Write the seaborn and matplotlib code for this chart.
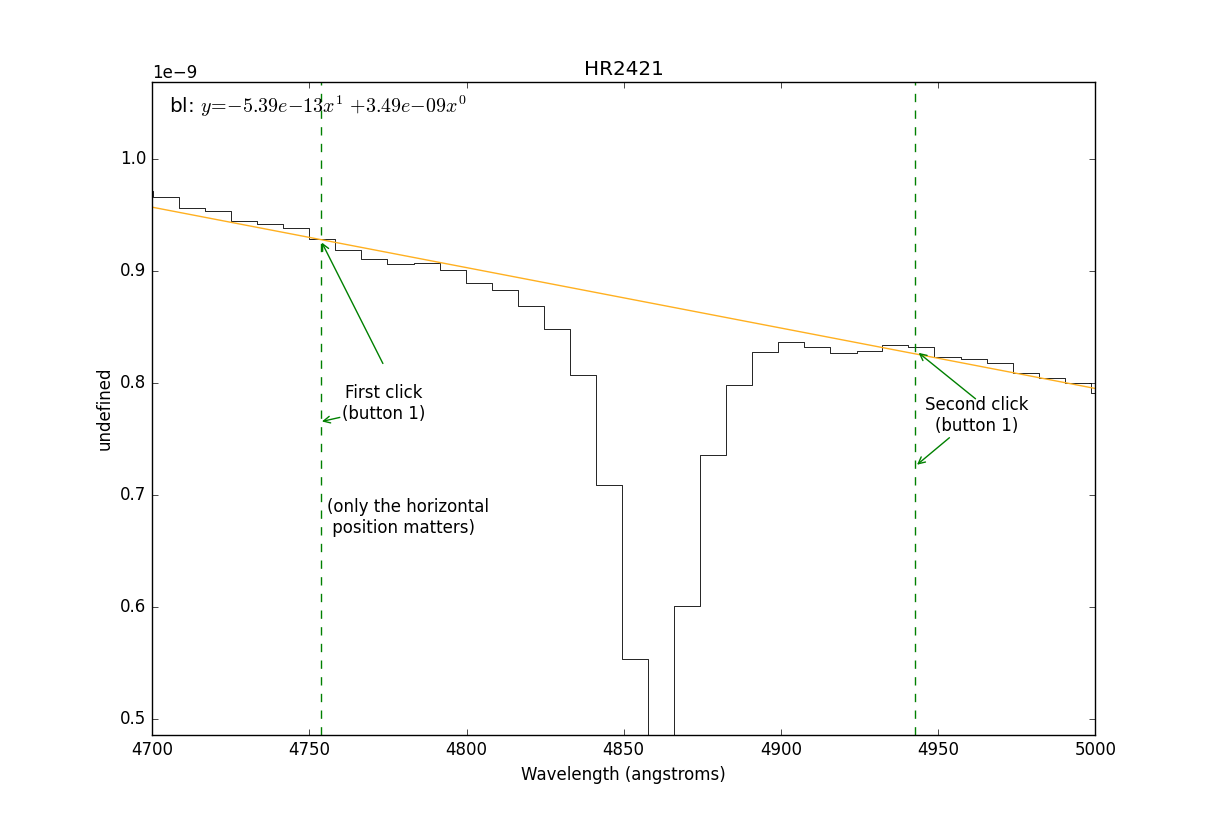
import numpy as np
import matplotlib
matplotlib.use("Agg")
import matplotlib.pyplot as plt
import seaborn as sns

# spectre (flux en unités de 1e-9)
wavelength = [4696.2, 4704.4, 4712.7, 4721.0, 4729.3, 4737.6, 4745.9, 4754.2,
              4762.4, 4770.7, 4779.0, 4787.3, 4795.6, 4803.9, 4812.2, 4820.4,
              4828.7, 4837.0, 4845.3, 4853.6, 4861.9, 4870.2, 4878.4, 4886.7,
              4895.0, 4903.3, 4911.6, 4919.9, 4928.2, 4936.4, 4944.7, 4953.0,
              4961.3, 4969.6, 4977.9, 4986.2, 4994.4, 5002.7]
flux_e9 = [0.9715, 0.9661, 0.9558, 0.9531, 0.9447, 0.9418, 0.9382, 0.9284,
           0.9186, 0.9106, 0.9062, 0.9073, 0.9008, 0.8895, 0.8824, 0.8690,
           0.8482, 0.8066, 0.7092, 0.5535, 0.4200, 0.6010, 0.7360, 0.7984,
           0.8274, 0.8366, 0.8319, 0.8268, 0.8283, 0.8336, 0.8319, 0.8233,
           0.8211, 0.8176, 0.8090, 0.8045, 0.8001, 0.7908]

# baseline (coefficients du label)
bl_coefs = [-5.39e-13, 3.49e-09]
bl_x = [4700, 5000]

# positions des clics
clicks = [4753.7, 4942.8]

plt.style.use('classic')
plt.rcParams['figure.facecolor'] = 'white'
plt.rcParams['savefig.facecolor'] = 'white'

fig = plt.figure(figsize=(12.17, 8.17), dpi=100)
ax = fig.add_axes([0.125, 0.1, 0.775, 0.8])

sns.lineplot(x=wavelength, y=np.array(flux_e9) * 1e-9, ax=ax, color='k',
             lw=0.6, drawstyle='steps-mid', estimator=None)
sns.lineplot(x=bl_x, y=np.polyval(bl_coefs, bl_x), ax=ax, color='#FFB020',
             lw=1.0, estimator=None)

for c in clicks:
    ax.axvline(c, color='g', ls='--', lw=1.0)

arrow = dict(arrowstyle='->', color='g', lw=1.0, shrinkA=0, shrinkB=0)
ax.annotate('', xy=(4754.0, 0.9251e-9), xytext=(4773.4, 0.8173e-9), arrowprops=arrow)
ax.annotate('', xy=(4754.0, 0.7656e-9), xytext=(4759.7, 0.7692e-9), arrowprops=arrow)
ax.annotate('', xy=(4943.8, 0.8268e-9), xytext=(4961.9, 0.7858e-9), arrowprops=arrow)
ax.annotate('', xy=(4943.3, 0.7270e-9), xytext=(4953.6, 0.7511e-9), arrowprops=arrow)

ax.text(4773.7, 0.7816e-9, "First click\n(button 1)", ha='center', va='center', fontsize=12)
ax.text(4962.2, 0.7709e-9, "Second click\n(button 1)", ha='center', va='center', fontsize=12)
ax.text(4755.6, 0.680e-9, "(only the horizontal\n position matters)", ha='left',
        va='center', multialignment='left', fontsize=12)

ax.text(0.018, 0.962, r"bl: $y\!=\!{-}5.39e{-}13x^1\ {+}3.49e{-}09x^0$",
        transform=ax.transAxes, ha='left', va='center', fontsize=14.4)

ax.set_xlim(4700, 5000)
ax.set_ylim(0.4857e-9, 1.0686e-9)
ax.set_title("HR2421")
ax.set_xlabel("Wavelength (angstroms)")
ax.set_ylabel("undefined")

fig.savefig("out.png", dpi=100)
